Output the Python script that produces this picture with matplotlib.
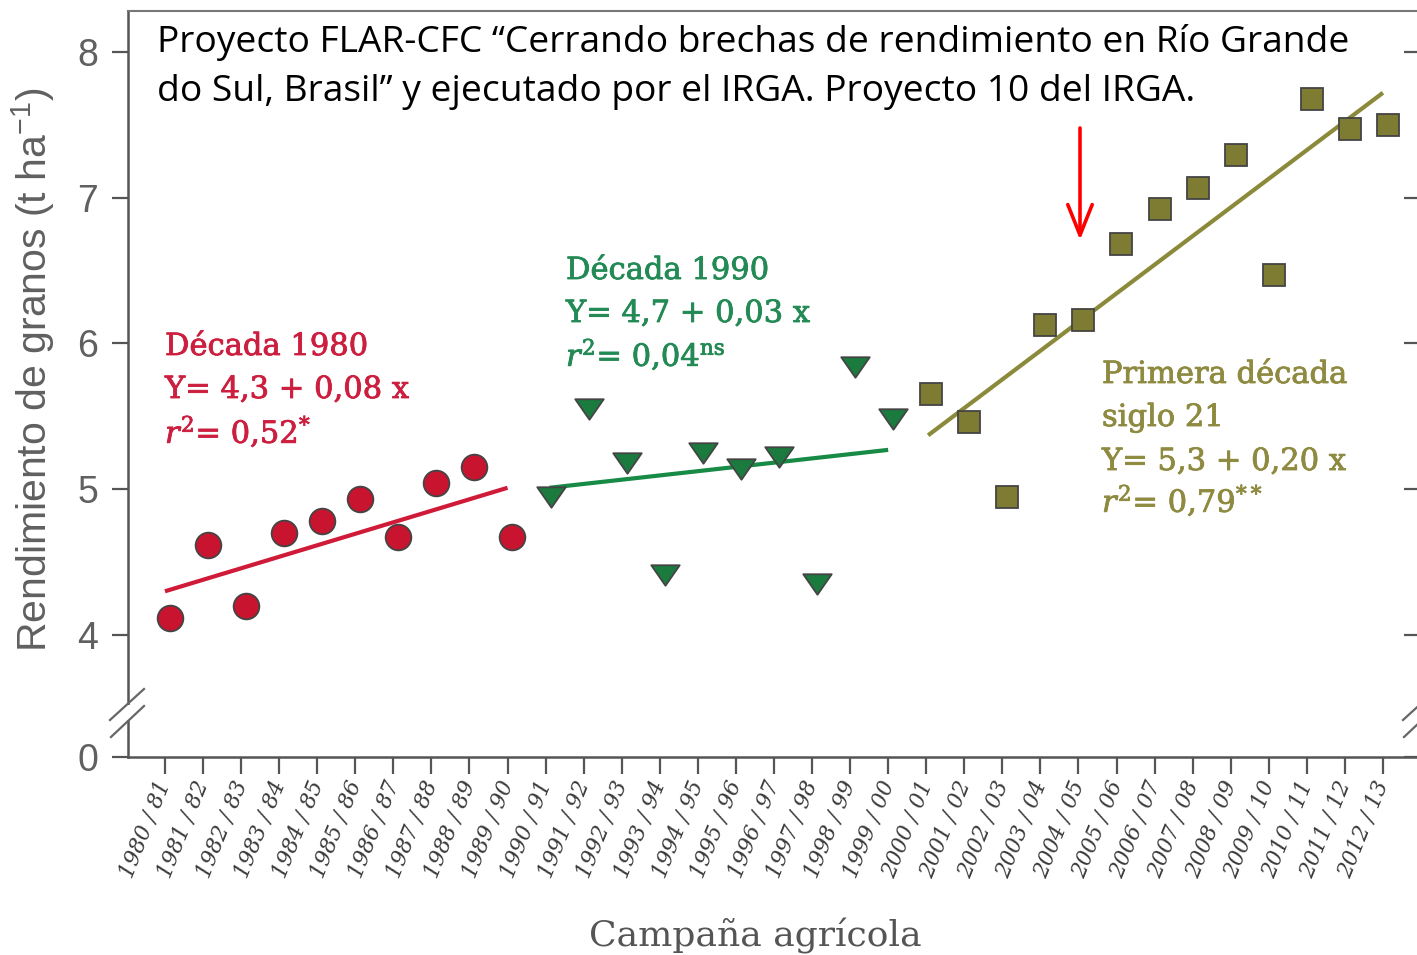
import matplotlib
matplotlib.use('Agg')
import matplotlib.pyplot as plt
import matplotlib.patheffects as pe
from matplotlib.lines import Line2D
from matplotlib.patches import Rectangle
from matplotlib.path import Path

# ---------------- data ----------------
campaigns = ['1980 / 81', '1981 / 82', '1982 / 83', '1983 / 84', '1984 / 85',
             '1985 / 86', '1986 / 87', '1987 / 88', '1988 / 89', '1989 / 90',
             '1990 / 91', '1991 / 92', '1992 / 93', '1993 / 94', '1994 / 95',
             '1995 / 96', '1996 / 97', '1997 / 98', '1998 / 99', '1999 / 00',
             '2000 / 01', '2001 / 02', '2002 / 03', '2003 / 04', '2004 / 05',
             '2005 / 06', '2006 / 07', '2007 / 08', '2008 / 09', '2009 / 10',
             '2010 / 11', '2011 / 12', '2012 / 13']

yield_1980s = [4.12, 4.62, 4.20, 4.70, 4.78, 4.93, 4.67, 5.04, 5.15, 4.67]
yield_1990s = [4.95, 5.55, 5.18, 4.41, 5.25, 5.14, 5.22, 4.35, 5.84, 5.48]
yield_2000s = [5.65, 5.46, 4.95, 6.13, 6.16, 6.68, 6.92, 7.07, 7.29, 6.47,
               7.68, 7.47, 7.50]

fit_1980s_x = [0.0, 9.0]
fit_1980s_y = [4.30, 5.01]
fit_1990s_x = [10.1, 19.0]
fit_1990s_y = [5.01, 5.27]
fit_2000s_x = [20.05, 32.0]
fit_2000s_y = [5.37, 7.72]

ytick_values = [4, 5, 6, 7, 8]
ytick_labels = ['4', '5', '6', '7', '8']
zero_label = '0'

# ---------------- layout helpers ----------------
W, H, DPI = 1417, 955, 100
fig = plt.figure(figsize=(W / DPI, H / DPI), dpi=DPI)
plt.rcParams['mathtext.fontset'] = 'dejavuserif'


def fx(x):
    return x / W


def fy(y):
    return 1 - y / H


ax_left, ax_right, ax_top, ax_bottom = 128, 1421, 11, 757
ax = fig.add_axes([fx(ax_left), fy(ax_bottom),
                   (ax_right - ax_left) / W, (ax_bottom - ax_top) / H])

ybot, ytop = 3.163, 8.281
ax.set_ylim(ybot, ytop)
ax.set_xlim(-0.972, 33.0)

# marker offset (markers sit slightly right of the ticks in the original)
moff = 0.13
n80 = len(yield_1980s)
n90 = len(yield_1990s)
x80 = [i + moff for i in range(n80)]
x90 = [n80 + i + moff for i in range(n90)]
x00 = [n80 + n90 + i + moff for i in range(len(yield_2000s))]

red = '#C8142F'
green = '#1B7A3E'
olive = '#7E7C32'
edge = '#444444'

ax.plot(fit_1980s_x, fit_1980s_y, color='#CF1A38', lw=3.0, solid_capstyle='butt', zorder=2)
ax.plot(fit_1990s_x, fit_1990s_y, color='#178A45', lw=3.0, solid_capstyle='butt', zorder=2)
ax.plot(fit_2000s_x, fit_2000s_y, color='#8A8A3A', lw=3.0, solid_capstyle='butt', zorder=2)

tri = Path([(-1, 0.72), (1, 0.72), (0, -0.72), (-1, 0.72)],
           [Path.MOVETO, Path.LINETO, Path.LINETO, Path.CLOSEPOLY])

ax.plot(x80, yield_1980s, ls='none', marker='o', ms=18.5, mfc=red, mec=edge, mew=1.3, zorder=3)
ax.plot(x90, yield_1990s, ls='none', marker=tri, ms=20.5, mfc=green, mec=edge, mew=1.3, zorder=3)
ax.plot(x00, yield_2000s, ls='none', marker='s', ms=16.5, mfc=olive, mec=edge, mew=1.3, zorder=3)

# ---------------- axes styling ----------------
spine_col = '#555555'
for s in ['left', 'bottom', 'right']:
    ax.spines[s].set_color(spine_col)
    ax.spines[s].set_linewidth(1.8)
ax.spines['top'].set_color('#777777')
ax.spines['top'].set_linewidth(1.5)

ax.set_xticks(range(len(campaigns)))
ax.set_xticklabels(campaigns, rotation=68, ha='right', va='center',
                   rotation_mode='anchor', fontsize=15.5, family='DejaVu Serif',
                   style='italic', color='#3a3a3a')
ax.tick_params(axis='x', direction='out', length=12, width=1.6, color=spine_col, pad=6)

ax.set_yticks([ybot] + ytick_values)
ax.set_yticklabels([zero_label] + ytick_labels, fontsize=27,
                   family='Liberation Sans', color='#606060')
ax.tick_params(axis='y', which='both', left=True, right=True, direction='out',
               length=11.5, width=1.6, color=spine_col, pad=10)
# right ticks point inwards
for t in ax.yaxis.get_major_ticks():
    t.tick2line.set_marker(0)
    t.tick2line.set_markersize(12)

fig.text(fx(755), fy(946), 'Campaña agrícola', fontsize=26, family='DejaVu Serif',
         color='#555555', ha='center', va='baseline')

fig.text(fx(33), fy(370), 'Rendimiento de granos (t ha$\\mathregular{^{-1}}$)',
         rotation=90, fontsize=29.5, family='Liberation Sans', color='#606060',
         ha='center', va='center')

# ---------------- axis break marks ----------------
for dx in (0, ax_right - ax_left):
    cx = ax_left + dx
    fig.add_artist(Rectangle((fx(cx - 3), fy(720)), 6 / W, 15 / H,
                             transform=fig.transFigure, facecolor='white',
                             edgecolor='none', zorder=10))
    for (x1, y1, x2, y2) in [(110, 720, 144, 689), (111, 737, 144, 706)]:
        fig.add_artist(Line2D([fx(x1 + dx), fx(x2 + dx)], [fy(y1), fy(y2)],
                              transform=fig.transFigure, color='#666666',
                              lw=1.6, zorder=11))

# ---------------- annotations ----------------
ann_font = 'DejaVu Serif'
ann_size = 22
c80 = '#CC1F3F'
c90 = '#238A55'
c00 = '#8E8A40'


def ann(x, y, txt, col):
    fig.text(fx(x), fy(y), txt, fontsize=ann_size, family=ann_font,
             color=col, ha='left', va='baseline',
             path_effects=[pe.withStroke(linewidth=0.6, foreground=col)])


for txt, y in [('Década 1980', 355), ('Y= 4,3 + 0,08 x', 398),
               ('$r^{2}$= 0,52$^{*}$', 443)]:
    ann(165, y, txt, c80)

for txt, y in [('Década 1990', 279), ('Y= 4,7 + 0,03 x', 322),
               ('$r^{2}$= 0,04$^{\\mathrm{ns}}$', 366)]:
    ann(566, y, txt, c90)

for txt, y in [('Primera década', 383), ('siglo 21', 426),
               ('Y= 5,3 + 0,20 x', 470), ('$r^{2}$= 0,79$^{**}$', 512)]:
    ann(1102, y, txt, c00)

# title note
fig.text(fx(157), fy(52), 'Proyecto FLAR-CFC “Cerrando brechas de rendimiento en Río Grande',
         fontsize=26.7, family='Open Sans', color='black', ha='left', va='baseline')
fig.text(fx(157), fy(101), 'do Sul, Brasil” y ejecutado por el IRGA. Proyecto 10 del IRGA.',
         fontsize=26.7, family='Open Sans', color='black', ha='left', va='baseline')

# red arrow
ax_arrow = fig.add_axes([0, 0, 1, 1], facecolor='none')
ax_arrow.set_axis_off()
ax_arrow.set_xlim(0, W)
ax_arrow.set_ylim(H, 0)
ax_arrow.annotate('', xy=(1080, 240), xytext=(1080, 128),
                  arrowprops=dict(arrowstyle='->,head_length=1.0,head_width=0.4',
                                  color='#FF0000', lw=2.6, mutation_scale=22,
                                  shrinkA=0, shrinkB=0))

fig.savefig('out.png', dpi=DPI)
